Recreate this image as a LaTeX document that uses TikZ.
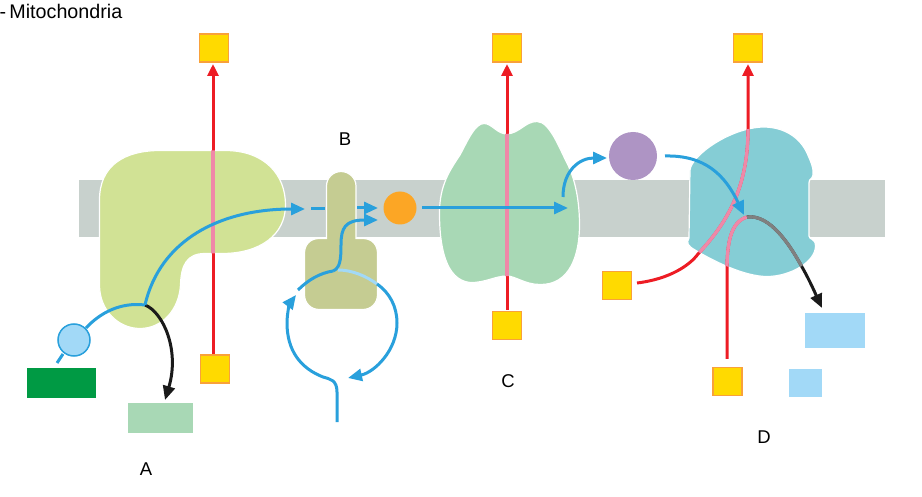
\documentclass[tikz,border=0pt]{standalone}
\usepackage{fontspec}
\setmainfont{Liberation Sans}
\usetikzlibrary{arrows.meta}
\definecolor{band}{HTML}{C8D1CD}
\definecolor{enzA}{HTML}{D1E295}
\definecolor{enzB}{HTML}{C5CC92}
\definecolor{enzC}{HTML}{A8D8B5}
\definecolor{enzD}{HTML}{85CDD5}
\definecolor{flow}{HTML}{29A0DC}
\definecolor{lightflow}{HTML}{A2D9F7}
\definecolor{redline}{HTML}{ED1C24}
\definecolor{pinkline}{HTML}{F088A8}
\definecolor{greyline}{HTML}{808080}
\definecolor{sqfill}{HTML}{FFDA00}
\definecolor{sqdraw}{HTML}{F9A13A}
\definecolor{orangec}{HTML}{FCA625}
\definecolor{purplec}{HTML}{AE94C4}
\definecolor{darkg}{HTML}{009A44}
\definecolor{blk}{HTML}{1A1A1A}
\newcommand{\shapeA}{(99.5,200) .. controls (99.5,165) and (125,150.5) .. (160,150.5) -- (225,150.5) .. controls (265,150.5) and (285.5,175) .. (285.5,205) .. controls (285.5,235) and (260,253.5) .. (222,253.5) -- (205,253.5) .. controls (187,253.5) and (181,265) .. (180.5,285) .. controls (179,310) and (162,328.5) .. (140,328.5) .. controls (118,328.5) and (99.5,310) .. (99.5,285) -- cycle}
\newcommand{\shapeB}{(326.5,238.5) -- (326.5,186) .. controls (326.5,178) and (333,171.5) .. (341,171.5) .. controls (349,171.5) and (356,178) .. (356,186) -- (356,238.5) -- (363,238.5) .. controls (372,238.5) and (377.5,245) .. (377.5,253) -- (377.5,295) .. controls (377.5,303) and (371,309.5) .. (363,309.5) -- (319,309.5) .. controls (311,309.5) and (304.5,303) .. (304.5,295) -- (304.5,253) .. controls (304.5,245) and (310,238.5) .. (319,238.5) -- cycle}
\newcommand{\shapeC}{(507,134) .. controls (520,133) and (525,121.5) .. (537,121.5) .. controls (550,121.5) and (560,150) .. (568,165) .. controls (575,180) and (579.5,200) .. (579.5,225) .. controls (579.5,255) and (570,285) .. (540,284.5) .. controls (525,284.5) and (515,276) .. (507,276) .. controls (495,276) and (485,283) .. (470,282.5) .. controls (445,280) and (439.5,245) .. (439.5,213) .. controls (439.5,185) and (450,170) .. (460,155) .. controls (468,140) and (475,123.5) .. (484,123.5) .. controls (492,123.5) and (497,134) .. (507,134) -- cycle}
\newcommand{\shapeD}{(763,127) .. controls (785,127) and (800,138) .. (807,153) .. controls (810,160) and (814,168) .. (813,175) .. controls (812,180) and (809,178) .. (809,183) -- (809,236) .. controls (809,240) and (815.5,238) .. (815.5,246) .. controls (815.5,262) and (790,276.5) .. (767,276.5) .. controls (745,276.5) and (715,262) .. (695,250) .. controls (688,246) and (686,243) .. (689,238) -- (690,170) .. controls (692,155) and (730,128) .. (763,127) -- cycle}
\newcommand{\redA}{(sA) -- (eA)}
\newcommand{\redC}{(sC) -- (eC)}
\newcommand{\redDa}{(sDa) .. controls (670,279) and (690,265) .. (698,254) .. controls (725,225) and (748,190) .. (748,130) -- (eDa)}
\newcommand{\redDb}{(sDb) -- (727,270) .. controls (727,245) and (730,222) .. (747,217)}
\newcommand{\exitD}{(747,217) .. controls (770,214) and (790,245) .. (802,267) .. controls (810,281) and (816,295) .. (eDb)}
\tikzset{
  x=1pt,y=-1pt,
  mem/.style={fill=band,draw=none},
  enz/.style={draw=white,line width=1.2pt},
  sq/.style={draw=sqdraw,fill=sqfill,line width=1.6pt,minimum width=29pt,minimum height=28pt,inner sep=0pt,outer sep=0pt},
  block/.style={draw=none,inner sep=0pt,outer sep=0pt},
  lab/.style={font=\fontsize{18.5}{20}\selectfont,text=black,inner sep=0pt},
  titlelab/.style={font=\fontsize{19.7}{22}\selectfont,text=black,inner sep=0pt},
  flowline/.style={draw=flow,line width=3pt},
  flowarrow/.style={flowline,-{Triangle[length=14pt,width=12pt]}},
  redarrow/.style={draw=redline,line width=3pt,-{Triangle[length=12pt,width=11pt]}},
  redplain/.style={draw=redline,line width=3pt},
  pinkplain/.style={draw=pinkline,line width=3.3pt},
  greyplain/.style={draw=greyline,line width=3.3pt},
  blackarrow/.style={draw=blk,line width=3pt,-{Triangle[length=14pt,width=12pt]}},
}
\begin{document}
\begin{tikzpicture}
\useasboundingbox (0,0) rectangle (922,497);
\clip (0,0) rectangle (922,497);
\fill[white] (0,0) rectangle (922,497);
\node[titlelab,anchor=base west] (title) at (-0.5,18.5) {\spaceskip=3.2pt\relax - Mitochondria};
% membrane
\fill[mem] (79,180) rectangle (885,237);
% enzymes
\path[enz,fill=enzA] \shapeA;
\path[enz,fill=enzB] \shapeB;
\path[enz,fill=enzC] \shapeC;
\path[enz,fill=enzD] \shapeD;
% small blocks
\node[block,fill=darkg,minimum width=69pt,minimum height=30pt] (dg) at (61.5,383) {};
\node[block,fill=enzC,minimum width=65pt,minimum height=30pt] (lg) at (160.5,418) {};
\node[block,fill=lightflow,minimum width=60pt,minimum height=35pt] (lb1) at (835,330.5) {};
\node[block,fill=lightflow,minimum width=33pt,minimum height=28pt] (lb2) at (805.5,383) {};
% squares
\node[sq] (s1) at (214,48) {};
\node[sq] (s2) at (215,369) {};
\node[sq] (s3) at (507,48) {};
\node[sq] (s4) at (507,325.5) {};
\node[sq] (s5) at (748,48) {};
\node[sq] (s6) at (617,285.5) {};
\node[sq] (s7) at (727.5,381.5) {};
% circles
\node[circle,fill=orangec,minimum size=33pt,inner sep=0pt,outer sep=0pt] (oc) at (400,208) {};
\node[circle,fill=purplec,minimum size=48pt,inner sep=0pt,outer sep=0pt] (pc) at (633,156) {};
\node[circle,fill=lightflow,draw=flow,line width=1.5pt,minimum size=32pt,inner sep=0pt,outer sep=0pt] (bc) at (74,340) {};
% labels
\node[lab] (la) at (146,469) {A};
\node[lab] (lbb) at (345,139) {B};
\node[lab] (lc) at (508,381) {C};
\node[lab] (ld) at (764,437) {D};
% free ends
\coordinate (sA) at (213,354);
\coordinate (eA) at (213,64);
\coordinate (sC) at (507,310);
\coordinate (eC) at (507,64);
\coordinate (sDa) at (637,283);
\coordinate (eDa) at (748,64);
\coordinate (sDb) at (727,359);
\coordinate (eDb) at (822,308);
\coordinate (j1) at (145,305);
% red lines with pink parts inside the enzymes
\draw[redarrow] \redA;
\begin{scope}\clip \shapeA; \draw[pinkplain] \redA; \end{scope}
\draw[redarrow] \redC;
\begin{scope}\clip \shapeC; \draw[pinkplain] \redC; \end{scope}
\draw[redarrow] \redDa;
\begin{scope}\clip \shapeD; \draw[pinkplain] \redDa; \end{scope}
\draw[redplain] \redDb;
\begin{scope}\clip \shapeD; \draw[pinkplain] \redDb; \end{scope}
% black exit
\draw[blackarrow] \exitD;
\begin{scope}\clip \shapeD; \draw[greyplain] \exitD; \end{scope}
% A flows
\draw[blackarrow] (j1) .. controls (163,312) and (180,350) .. (165,400);
\draw[flowline] (bc) ++(12,-12) .. controls (100,313) and (120,302) .. (j1);
\draw[flowline] (63,354) -- (57,363);
\draw[flowarrow] (j1) .. controls (160,240) and (220,209) .. (305,209);
\draw[flowline] (311,209) -- (325,209);
\draw[flowarrow] (357,208) -- (378,208);
% B loop
\draw[flowarrow] (337,422) -- (337,392) .. controls (337,380) and (330,379) .. (323,377) .. controls (300,368) and (287,350) .. (287,323) .. controls (287,313) and (290,303) .. (296,295);
\draw[flowline] (298,290) .. controls (308,280) and (320,273) .. (333,271);
\draw[flowarrow] (333,271) .. controls (340,268) and (341,260) .. (341,245) .. controls (341,228) and (345,220) .. (378,220);
\draw[draw=lightflow,line width=3pt] (338,270) .. controls (352,270) and (366,276) .. (377,284);
\draw[flowarrow] (377,284) .. controls (390,293) and (397,307) .. (397,323) .. controls (397,350) and (375,372) .. (348,378);
% C and D flows
\draw[flowarrow] (422,208) -- (568,208);
\draw[flowarrow] (563,197) .. controls (563,170) and (580,158) .. (607,158);
\draw[flowarrow] (665,156) .. controls (705,155) and (725,175) .. (744,215);
\end{tikzpicture}
\end{document}
